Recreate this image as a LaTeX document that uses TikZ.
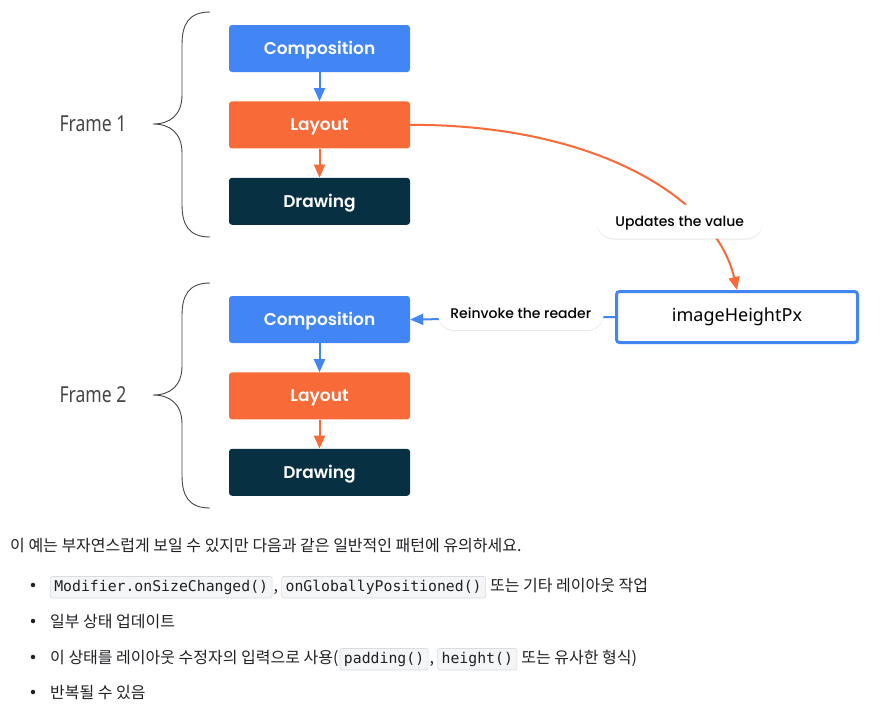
\documentclass[tikz,border=0pt]{standalone}
\usepackage{fontspec}
\setmainfont{Noto Sans}
\newfontfamily\boxfont{Poppins}[UprightFont=* SemiBold]
\newfontfamily\pillfont{Poppins}[UprightFont=* Medium]
\newfontfamily\framefont{Noto Sans}[FakeStretch=0.8]
\newfontfamily\kofont{Noto Sans CJK KR}
\newfontfamily\codefont{DejaVu Sans Mono}
\usetikzlibrary{arrows.meta,positioning,shadows}
\definecolor{cblue}{HTML}{4285F4}
\definecolor{corange}{HTML}{F86A37}
\definecolor{cdark}{HTML}{073042}
\definecolor{cgray}{HTML}{454545}
\definecolor{codebg}{HTML}{F4F5F7}
\definecolor{codeline}{HTML}{DADCE0}
\definecolor{ktext}{HTML}{202124}

\begin{document}
\begin{tikzpicture}[x=1pt, y=-1pt,
    step_box/.style={rectangle, rounded corners=3pt, minimum width=181pt, minimum height=47pt, inner sep=0pt, text height=12pt, text depth=0pt, text=white, font=\boxfont\fontsize{17}{20}\selectfont},
    pill_node/.style={rectangle, rounded corners=17pt, fill=white, minimum width=166pt, minimum height=34pt, inner sep=0pt, text height=10pt, text depth=0pt, text=black, font=\pillfont\fontsize{14}{16}\selectfont, drop shadow={opacity=0.18, shadow xshift=0pt, shadow yshift=-1pt}},
    frame_label/.style={text=cgray, font=\framefont\fontsize{22}{24}\selectfont},
    frame_brace/.style={draw=cgray, line width=0.9pt},
    flow_arrow/.style={line width=2pt, -{Triangle[length=13pt, width=11pt]}},
    ko_text/.style={anchor=base west, inner sep=0pt, text=ktext, font=\kofont\fontsize{16}{18}\selectfont},
    code_node/.style={anchor=base west, rectangle, rounded corners=2pt, fill=codebg, draw=codeline, line width=0.6pt, inner xsep=4pt, inner ysep=4pt, text height=10.5pt, text depth=3pt, text=ktext, font=\codefont\fontsize{14.8}{16}\selectfont},
    bullet_dot/.style={circle, fill=ktext, inner sep=0pt, minimum size=4.5pt}]

    \fill[white] (0,0) rectangle (880,710);
    \useasboundingbox (0,0) rectangle (880,710);

    \foreach \i/\off in {1/0, 2/271} {
        \node[frame_label] (fr\i) at (93,{124+\off}) {Frame \i};
        \draw[frame_brace] (210,{12+\off}) .. controls (188,{12+\off}) and (182,{25+\off}) .. (182,{45+\off}) -- (182,{95+\off})
            .. controls (182,{115+\off}) and (170,{124+\off}) .. (153,{124+\off})
            .. controls (170,{124+\off}) and (182,{133+\off}) .. (182,{153+\off}) -- (182,{204+\off})
            .. controls (182,{224+\off}) and (188,{237+\off}) .. (210,{237+\off});
        \node[step_box, fill=cblue] (comp\i) at (319.5,{48.5+\off}) {Composition};
        \node[step_box, fill=corange, below=29pt of comp\i] (lay\i) {Layout};
        \node[step_box, fill=cdark, below=29pt of lay\i] (drw\i) {Drawing};
        \draw[flow_arrow, cblue] (comp\i) -- (lay\i);
        \draw[flow_arrow, corange] (lay\i) -- (drw\i);
    }

    \node[rectangle, draw=cblue, line width=3pt, rounded corners=3pt, minimum width=241pt, minimum height=51pt, font=\fontsize{18}{20}\selectfont] (hpx) at (737,317) {imageHeightPx};

    \draw[flow_arrow, corange] (lay1.east) .. controls (590,124) and (715,195) .. (hpx.north)
        node[pill_node, pos=0.74, xshift=-20pt] (upd) {Updates the value};
    \draw[flow_arrow, cblue] (hpx.west) -- (comp2.east)
        node[pill_node, pos=0.46, yshift=5pt] (rdr) {Reinvoke the reader};

    \node[ko_text] (intro) at (10,551) {이 예는 부자연스럽게 보일 수 있지만 다음과 같은 일반적인 패턴에 유의하세요.};

    \node[bullet_dot] (b1) at (33,585) {};
    \node[code_node] (m1) at (50,591) {Modifier.onSizeChanged()};
    \node[ko_text] (c1) at ([xshift=1pt]m1.base east) {,};
    \node[code_node] (m2) at ([xshift=3pt]c1.base east) {onGloballyPositioned()};
    \node[ko_text] (t1) at ([xshift=4pt]m2.base east) {또는 기타 레이아웃 작업};

    \node[bullet_dot] (b2) at (33,621) {};
    \node[ko_text] (t2) at (50,627) {일부 상태 업데이트};

    \node[bullet_dot] (b3) at (33,657) {};
    \node[ko_text] (t3) at (50,663) {이 상태를 레이아웃 수정자의 입력으로 사용(};
    \node[code_node] (m3) at ([xshift=1pt]t3.base east) {padding()};
    \node[ko_text] (c3) at ([xshift=1pt]m3.base east) {,};
    \node[code_node] (m4) at ([xshift=3pt]c3.base east) {height()};
    \node[ko_text] (t4) at ([xshift=4pt]m4.base east) {또는 유사한 형식)};

    \node[bullet_dot] (b4) at (33,692) {};
    \node[ko_text] (t5) at (50,698) {반복될 수 있음};
\end{tikzpicture}
\end{document}
